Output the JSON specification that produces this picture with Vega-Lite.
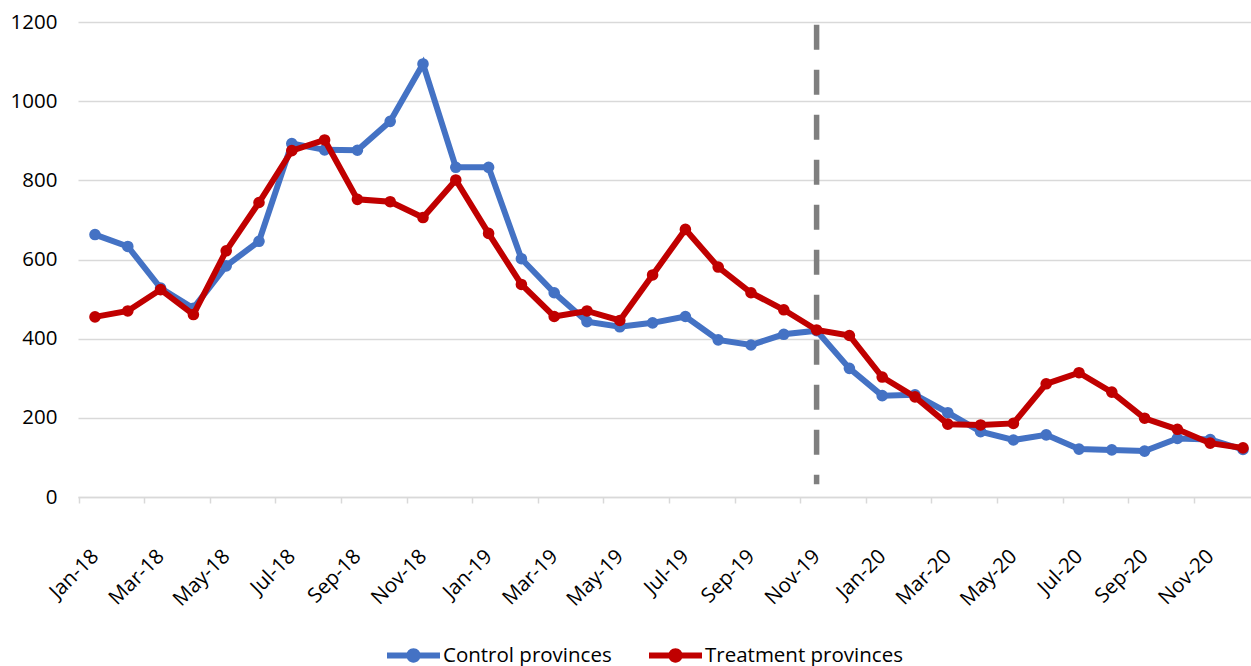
{
  "$schema": "https://vega.github.io/schema/vega-lite/v6.json",
  "width": 1173,
  "height": 475,
  "autosize": {"type": "none"},
  "padding": {"left": 78, "top": 22, "right": 0, "bottom": 169},
  "background": "white",
  "config": {
    "view": {"stroke": null},
    "font": "Open Sans",
    "axis": {"labelFont": "Open Sans", "labelFontSize": 20.5, "labelColor": "#000000"},
    "legend": {"labelFont": "Open Sans", "labelFontSize": 20.5, "labelColor": "#000000", "labelLimit": 0}
  },
  "datasets": {
    "series": [
      {"month": "Jan-18", "series": "Control provinces", "value": 663},
      {"month": "Feb-18", "series": "Control provinces", "value": 633},
      {"month": "Mar-18", "series": "Control provinces", "value": 528},
      {"month": "Apr-18", "series": "Control provinces", "value": 477},
      {"month": "May-18", "series": "Control provinces", "value": 584},
      {"month": "Jun-18", "series": "Control provinces", "value": 646},
      {"month": "Jul-18", "series": "Control provinces", "value": 893},
      {"month": "Aug-18", "series": "Control provinces", "value": 877},
      {"month": "Sep-18", "series": "Control provinces", "value": 876},
      {"month": "Oct-18", "series": "Control provinces", "value": 949},
      {"month": "Nov-18", "series": "Control provinces", "value": 1094},
      {"month": "Dec-18", "series": "Control provinces", "value": 833},
      {"month": "Jan-19", "series": "Control provinces", "value": 833},
      {"month": "Feb-19", "series": "Control provinces", "value": 602},
      {"month": "Mar-19", "series": "Control provinces", "value": 516},
      {"month": "Apr-19", "series": "Control provinces", "value": 443},
      {"month": "May-19", "series": "Control provinces", "value": 430},
      {"month": "Jun-19", "series": "Control provinces", "value": 440},
      {"month": "Jul-19", "series": "Control provinces", "value": 456},
      {"month": "Aug-19", "series": "Control provinces", "value": 397},
      {"month": "Sep-19", "series": "Control provinces", "value": 384},
      {"month": "Oct-19", "series": "Control provinces", "value": 411},
      {"month": "Nov-19", "series": "Control provinces", "value": 420},
      {"month": "Dec-19", "series": "Control provinces", "value": 325},
      {"month": "Jan-20", "series": "Control provinces", "value": 256},
      {"month": "Feb-20", "series": "Control provinces", "value": 258},
      {"month": "Mar-20", "series": "Control provinces", "value": 213},
      {"month": "Apr-20", "series": "Control provinces", "value": 165},
      {"month": "May-20", "series": "Control provinces", "value": 144},
      {"month": "Jun-20", "series": "Control provinces", "value": 157},
      {"month": "Jul-20", "series": "Control provinces", "value": 121},
      {"month": "Aug-20", "series": "Control provinces", "value": 119},
      {"month": "Sep-20", "series": "Control provinces", "value": 116},
      {"month": "Oct-20", "series": "Control provinces", "value": 148},
      {"month": "Nov-20", "series": "Control provinces", "value": 145},
      {"month": "Dec-20", "series": "Control provinces", "value": 120},
      {"month": "Jan-18", "series": "Treatment provinces", "value": 455},
      {"month": "Feb-18", "series": "Treatment provinces", "value": 470},
      {"month": "Mar-18", "series": "Treatment provinces", "value": 524},
      {"month": "Apr-18", "series": "Treatment provinces", "value": 461},
      {"month": "May-18", "series": "Treatment provinces", "value": 622},
      {"month": "Jun-18", "series": "Treatment provinces", "value": 744},
      {"month": "Jul-18", "series": "Treatment provinces", "value": 875},
      {"month": "Aug-18", "series": "Treatment provinces", "value": 902},
      {"month": "Sep-18", "series": "Treatment provinces", "value": 752},
      {"month": "Oct-18", "series": "Treatment provinces", "value": 746},
      {"month": "Nov-18", "series": "Treatment provinces", "value": 706},
      {"month": "Dec-18", "series": "Treatment provinces", "value": 801},
      {"month": "Jan-19", "series": "Treatment provinces", "value": 666},
      {"month": "Feb-19", "series": "Treatment provinces", "value": 537},
      {"month": "Mar-19", "series": "Treatment provinces", "value": 456},
      {"month": "Apr-19", "series": "Treatment provinces", "value": 470},
      {"month": "May-19", "series": "Treatment provinces", "value": 446},
      {"month": "Jun-19", "series": "Treatment provinces", "value": 561},
      {"month": "Jul-19", "series": "Treatment provinces", "value": 676},
      {"month": "Aug-19", "series": "Treatment provinces", "value": 581},
      {"month": "Sep-19", "series": "Treatment provinces", "value": 516},
      {"month": "Oct-19", "series": "Treatment provinces", "value": 473},
      {"month": "Nov-19", "series": "Treatment provinces", "value": 422},
      {"month": "Dec-19", "series": "Treatment provinces", "value": 408},
      {"month": "Jan-20", "series": "Treatment provinces", "value": 303},
      {"month": "Feb-20", "series": "Treatment provinces", "value": 253},
      {"month": "Mar-20", "series": "Treatment provinces", "value": 184},
      {"month": "Apr-20", "series": "Treatment provinces", "value": 182},
      {"month": "May-20", "series": "Treatment provinces", "value": 186},
      {"month": "Jun-20", "series": "Treatment provinces", "value": 286},
      {"month": "Jul-20", "series": "Treatment provinces", "value": 314},
      {"month": "Aug-20", "series": "Treatment provinces", "value": 265},
      {"month": "Sep-20", "series": "Treatment provinces", "value": 199},
      {"month": "Oct-20", "series": "Treatment provinces", "value": 171},
      {"month": "Nov-20", "series": "Treatment provinces", "value": 136},
      {"month": "Dec-20", "series": "Treatment provinces", "value": 124}
    ],
    "marker": [{"month": "Nov-19", "top": 1193, "bottom": 32}]
  },
  "encoding": {
    "x": {
      "field": "month",
      "type": "ordinal",
      "sort": null,
      "scale": {
        "type": "point",
        "padding": 0.381,
        "align": 0.68,
        "domain": ["Jan-18","Feb-18","Mar-18","Apr-18","May-18","Jun-18","Jul-18","Aug-18","Sep-18","Oct-18","Nov-18","Dec-18","Jan-19","Feb-19","Mar-19","Apr-19","May-19","Jun-19","Jul-19","Aug-19","Sep-19","Oct-19","Nov-19","Dec-19","Jan-20","Feb-20","Mar-20","Apr-20","May-20","Jun-20","Jul-20","Aug-20","Sep-20","Oct-20","Nov-20","Dec-20"]
      },
      "axis": {
        "title": null,
        "values": ["Jan-18","Mar-18","May-18","Jul-18","Sep-18","Nov-18","Jan-19","Mar-19","May-19","Jul-19","Sep-19","Nov-19","Jan-20","Mar-20","May-20","Jul-20","Sep-20","Nov-20"],
        "labelAngle": -45,
        "labelAlign": "right",
        "labelBaseline": "middle",
        "labelPadding": 50,
        "tickOffset": -16.4,
        "labelOffset": 16.4,
        "tickColor": "#d9d9d9",
        "tickWidth": 1.5,
        "tickSize": 6,
        "domainColor": "#d9d9d9",
        "domainWidth": 1.5,
        "grid": false,
        "labelOverlap": false
      }
    }
  },
  "layer": [
    {
      "data": {"name": "marker"},
      "mark": {"type": "rule", "color": "#7f7f7f", "strokeWidth": 5.5, "strokeDash": [25, 20], "strokeCap": "butt"},
      "encoding": {
        "y": {"field": "top", "type": "quantitative"},
        "y2": {"field": "bottom"}
      }
    },
    {
      "data": {"name": "series"},
      "transform": [{"filter": "datum.series === 'Control provinces'"}],
      "mark": {"type": "line", "strokeWidth": 6, "point": {"filled": true, "size": 135, "opacity": 1}},
      "encoding": {
        "y": {
          "field": "value",
          "type": "quantitative",
          "scale": {"domain": [0, 1200], "nice": false, "zero": true},
          "axis": {
            "title": null,
            "values": [0, 200, 400, 600, 800, 1000, 1200],
            "format": "d",
            "domain": false,
            "ticks": false,
            "labelPadding": 21,
            "gridColor": "#d9d9d9",
            "gridWidth": 1.5
          }
        },
        "color": {
          "field": "series",
          "type": "nominal",
          "scale": {"domain": ["Control provinces", "Treatment provinces"], "range": ["#4472c4", "#c00000"]},
          "legend": {
            "title": null,
            "orient": "none",
            "direction": "horizontal",
            "legendX": 309,
            "legendY": 607,
            "padding": 0,
            "symbolType": "M-1,-0.113 L1,-0.113 L1,0.113 L-1,0.113 Z M-0.27,0 A0.27,0.27 0 1,1 0.27,0 A0.27,0.27 0 1,1 -0.27,0 Z",
            "symbolSize": 2809,
            "symbolStrokeWidth": 0,
            "labelOffset": 3,
            "labelLimit": 0,
            "columnPadding": 37,
            "encode": {
              "symbols": {"update": {"fill": {"scale": "color", "field": "value"}, "stroke": {"value": "transparent"}, "opacity": {"value": 1}}}
            }
          }
        }
      }
    },
    {
      "data": {"name": "series"},
      "transform": [{"filter": "datum.series === 'Treatment provinces'"}],
      "mark": {"type": "line", "strokeWidth": 6, "point": {"filled": true, "size": 135, "opacity": 1}},
      "encoding": {
        "y": {"field": "value", "type": "quantitative"},
        "color": {"field": "series", "type": "nominal"}
      }
    }
  ]
}
